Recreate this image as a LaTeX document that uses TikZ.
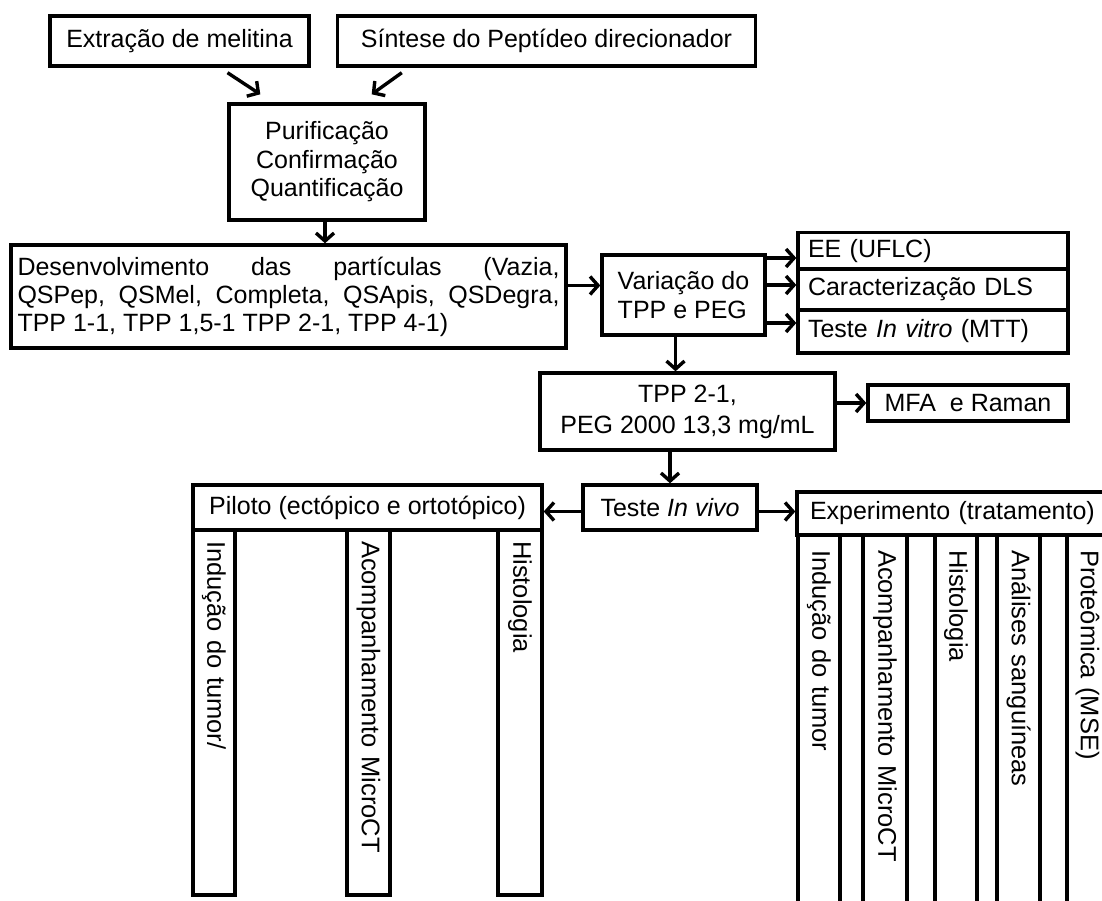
\documentclass[tikz,border=0pt]{standalone}
\usepackage{fontspec}
\setmainfont{Liberation Sans}
\usetikzlibrary{arrows.meta,calc}
\newcommand{\fsA}{\fontsize{25}{28.5}\selectfont}
\newcommand{\fsB}{\fontsize{25}{28}\selectfont}
\newcommand{\fsV}{\fontsize{25.5}{30}\selectfont}
\begin{document}
\begin{tikzpicture}[x=1pt,y=-1pt,
  box/.style={draw, line width=3.4pt, inner sep=0pt, font=\fsA, align=center},
  col/.style={draw, line width=3.4pt, rotate=-90, inner ysep=0pt, font=\fsV, align=left},
  arr/.style={line width=3.4pt, -{Straight Barb[length=8pt,width=18pt,line width=3.4pt]}}]
\clip (0,0) rectangle (1102,901);
\fill[white] (0,0) rectangle (1102,901);

\node[box, minimum width=259, minimum height=50] (ext) at (179.5,41) {Extração de melitina};
\node[box, minimum width=418, minimum height=50] (sint) at (546.5,41) {Síntese do Peptídeo direcionador};
\node[box, minimum width=196, minimum height=116] (puri) at (327,162) {Purificação\\Confirmação\\Quantificação};
\node[box, minimum width=555, minimum height=103, text width=542, align=justify, font=\fsB] (desen) at (288.5,296.5)
  {\hyphenpenalty=10000\exhyphenpenalty=10000 Desenvolvimento das partículas (Vazia,\linebreak QSPep, QSMel, Completa, QSApis, QSDegra,\linebreak TPP 1-1, TPP 1,5-1 TPP 2-1, TPP 4-1)};
\node[box, minimum width=163, minimum height=80, align=left] (var) at (683.5,295) {Variação do\\TPP e PEG};
\node[box, minimum width=270, minimum height=37, text width=250, inner xsep=10, align=left] (ee) at (933,251) {EE (UFLC)};
\node[box, minimum width=270, minimum height=41, text width=250, inner xsep=10, align=left] (dls) at (933,289.5) {Caracterização DLS};
\node[box, minimum width=270, minimum height=43, text width=250, inner xsep=10, align=left] (mtt) at (933,331.5) {Teste \textit{In vitro} (MTT)};
\node[box, minimum width=295, minimum height=77, font=\fontsize{25}{31}\selectfont] (tpp) at (687.5,411.5) {TPP 2-1,\\PEG 2000 13,3 mg/mL};
\node[box, minimum width=200, minimum height=36] (mfa) at (968,403) {MFA\ \ e Raman};
\node[box, minimum width=174, minimum height=45] (teste) at (670,507.5) {Teste \textit{In vivo}};
\node[box, minimum width=349, minimum height=45] (pil) at (367.5,507.5) {Piloto (ectópico e ortotópico)};
\node[box, minimum width=311, minimum height=43, text width=285, inner xsep=13, align=left] (exp) at (952.5,513.5) {Experimento (tratamento)};

\node[col, minimum width=365, minimum height=42, text width=343, inner xsep=11] (p1) at (214,712.5) {Indução do tumor/};
\node[col, minimum width=365, minimum height=43, text width=343, inner xsep=11] (p2) at (368.5,712.5) {Acompanhamento MicroCT};
\node[col, minimum width=365, minimum height=44, text width=343, inner xsep=11] (p3) at (520,712.5) {Histologia};

\node[col, minimum width=375, minimum height=42, text width=345, inner xsep=15] (e1) at (819,722.5) {Indução do tumor};
\node[col, minimum width=375, minimum height=44, text width=345, inner xsep=15] (e2) at (885,722.5) {Acompanhamento MicroCT};
\node[col, minimum width=375, minimum height=42, text width=345, inner xsep=15] (e3) at (956,722.5) {Histologia};
\node[col, minimum width=375, minimum height=43, text width=345, inner xsep=15] (e4) at (1018.5,722.5) {Análises sanguíneas};
\node[col, minimum width=375, minimum height=41, text width=345, inner xsep=15] (e5) at (1087.5,722.5) {Proteômica (MSE)};

\draw[arr] ([xshift=48pt,yshift=-5pt]ext.south) -- ([xshift=33pt,yshift=8pt]puri.north west);
\draw[arr] ([xshift=66pt,yshift=-5pt]sint.south west) -- ([xshift=-55pt,yshift=8pt]puri.north east);
\draw[arr] ([xshift=-2pt]puri.south) -- ([xshift=-2pt]puri.south |- desen.north);
\draw[arr] ([yshift=11pt]desen.east) -- ([yshift=11pt]desen.east -| var.west);
\draw[arr] ([yshift=37pt]var.east) -- ([yshift=37pt]var.east -| ee.west);
\draw[arr] ([yshift=10pt]var.east) -- ([yshift=10pt]var.east -| dls.west);
\draw[arr] ([yshift=-28pt]var.east) -- ([yshift=-28pt]var.east -| mtt.west);
\draw[arr] ([xshift=-8pt]var.south) -- ([xshift=-8pt]var.south |- tpp.north);
\draw[arr] (tpp.east |- mfa.west) -- (mfa.west);
\draw[arr] (teste.north |- tpp.south) -- (teste.north);
\draw[arr] ([yshift=-4pt]teste.west) -- ([yshift=-4pt]teste.west -| pil.east);
\draw[arr] ([yshift=-4pt]teste.east) -- ([yshift=-4pt]teste.east -| exp.west);
\end{tikzpicture}
\end{document}
